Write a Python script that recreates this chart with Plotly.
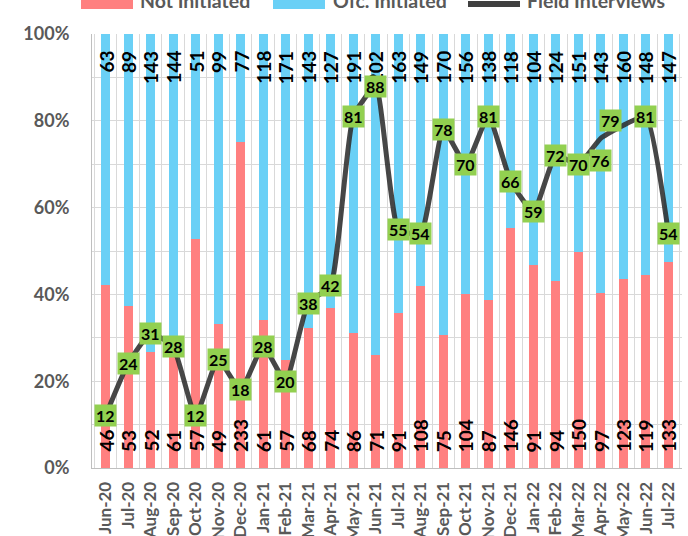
import plotly.graph_objects as go

# Monthly case counts and field-interview counts
months = ["Jun-20", "Jul-20", "Aug-20", "Sep-20", "Oct-20", "Nov-20", "Dec-20",
          "Jan-21", "Feb-21", "Mar-21", "Apr-21", "May-21", "Jun-21", "Jul-21",
          "Aug-21", "Sep-21", "Oct-21", "Nov-21", "Dec-21", "Jan-22", "Feb-22",
          "Mar-22", "Apr-22", "May-22", "Jun-22", "Jul-22"]
not_initiated = [46, 53, 52, 61, 57, 49, 233, 61, 57, 68, 74, 86, 71, 91,
                 108, 75, 104, 87, 146, 91, 94, 150, 97, 123, 119, 133]
ofc_initiated = [63, 89, 143, 144, 51, 99, 77, 118, 171, 143, 127, 191, 202, 163,
                 149, 170, 156, 138, 118, 104, 124, 151, 143, 160, 148, 147]
field_interviews = [12, 24, 31, 28, 12, 25, 18, 28, 20, 38, 42, 81, 88, 55,
                    54, 78, 70, 81, 66, 59, 72, 70, 76, 79, 81, 54]
y_ticks = [0, 20, 40, 60, 80, 100]

PINK = "#FF8080"
BLUE = "#6AD0F6"
LINE = "rgba(45,45,45,0.88)"
GREEN = "#92D050"
GREY = "#595959"
GRID = "#D9D9D9"
FONT = "Lato"

W, H = 688, 536
ML, MR, MT, MB = 92, 6, 34, 68
PW, PH = W - ML - MR, H - MT - MB


def px_x(px):
    return (px - ML) / PW


def px_y(py):
    return (H - MB - py) / PH


fig = go.Figure()
fig.add_bar(x=months, y=not_initiated, name="Not Initiated",
            marker=dict(color=PINK, line=dict(width=0)))
fig.add_bar(x=months, y=ofc_initiated, name="Ofc. Initiated",
            marker=dict(color=BLUE, line=dict(width=0)))
fig.add_scatter(x=months, y=field_interviews, name="Field Interviews", yaxis="y2",
                mode="lines",
                line=dict(color=LINE, width=5, shape="spline", smoothing=0.45))

count_font = dict(family=FONT, size=19, color="black", weight="bold")
for m, v in zip(months, not_initiated):
    fig.add_annotation(x=m, y=0, xref="x", yref="y", text=str(v), textangle=-90,
                       showarrow=False, xanchor="center", yanchor="bottom",
                       yshift=14, font=count_font)
for m, v in zip(months, ofc_initiated):
    fig.add_annotation(x=m, y=100, xref="x", yref="y", text=str(v), textangle=-90,
                       showarrow=False, xanchor="center", yanchor="top",
                       yshift=-15, font=count_font)

# green value boxes on the field-interview line
label_shift = {"Apr-22": (0, -22), "May-22": (-13, 5)}
for m, v in zip(months, field_interviews):
    dx, dy = label_shift.get(m, (0, 0))
    fig.add_annotation(x=m, y=v, xref="x", yref="y2", text=str(v), showarrow=False,
                       bgcolor=GREEN, borderpad=1, xshift=dx, yshift=dy,
                       font=dict(family=FONT, size=16, color="black", weight="bold"))

# legend strip along the top edge
legend_font = dict(family=FONT, size=19.5, color=GREY, weight="bold")
for x0, x1, color in [(81, 133, PINK), (273, 325, BLUE)]:
    fig.add_shape(type="rect", xref="paper", yref="paper",
                  x0=px_x(x0), x1=px_x(x1), y0=px_y(9), y1=px_y(-10),
                  fillcolor=color, line=dict(width=0))
fig.add_shape(type="line", xref="paper", yref="paper",
              x0=px_x(468), x1=px_x(520), y0=px_y(4), y1=px_y(4),
              line=dict(color="#404040", width=6))
for xt, txt in [(138, "Not Initiated"), (331, "Ofc. Initiated"), (525, "Field Interviews")]:
    fig.add_annotation(x=px_x(xt), y=px_y(1), xref="paper", yref="paper", text=txt,
                       showarrow=False, xanchor="left", yanchor="middle", font=legend_font)

fig.update_layout(
    width=W, height=H,
    margin=dict(l=ML, r=MR, t=MT, b=MB, autoexpand=False),
    barmode="stack", barnorm="percent", bargap=0.6,
    showlegend=False,
    plot_bgcolor="white", paper_bgcolor="white",
    font=dict(family=FONT),
    xaxis=dict(type="category", tickson="boundaries", showgrid=True, gridcolor=GRID,
               gridwidth=1, tickangle=-90, ticks="", showline=True, linecolor="#BFBFBF",
               linewidth=1, ticklabelstandoff=6, automargin=False,
               tickfont=dict(family=FONT, size=17, color=GREY, weight="bold")),
    yaxis=dict(range=[0, 100], tickvals=y_ticks, ticktext=[f"{t}%" for t in y_ticks],
               showgrid=True, gridcolor=GRID, gridwidth=1, zeroline=False,
               showline=True, linecolor="#BFBFBF", linewidth=1, ticks="",
               ticklabelstandoff=18, automargin=False,
               minor=dict(dtick=10, showgrid=True, gridcolor=GRID, gridwidth=1),
               tickfont=dict(family=FONT, size=18, color=GREY, weight="bold")),
    yaxis2=dict(range=[0, 100], overlaying="y", visible=False),
)

fig.write_html("out.html")
